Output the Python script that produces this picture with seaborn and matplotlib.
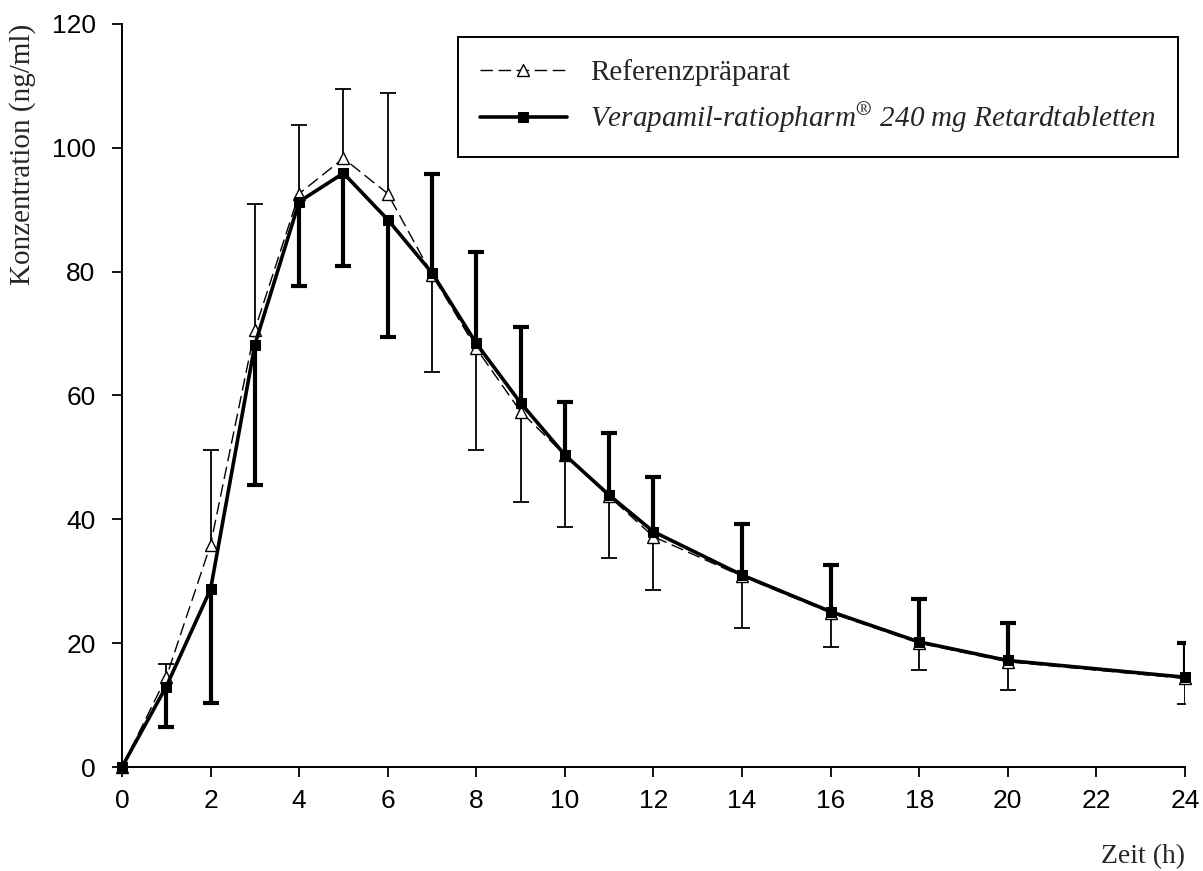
import numpy as np
import pandas as pd
import matplotlib
matplotlib.use("Agg")
import matplotlib.pyplot as plt
import seaborn as sns

# ---- data ----
times = [0, 1, 2, 3, 4, 5, 6, 7, 8, 9, 10, 11, 12, 14, 16, 18, 20, 24]
ref_mean = [0, 14.5, 35.9, 70.6, 92.6, 98.3, 92.6, 79.5, 67.6, 57.4, 50.4, 43.7, 37.2, 30.8, 24.9, 20.0, 17.0, 14.3]
test_mean = [0, 13.0, 28.7, 68.2, 91.3, 95.9, 88.4, 79.8, 68.4, 58.8, 50.4, 43.9, 38.0, 31.0, 25.1, 20.2, 17.2, 14.5]
# end of the one-sided SD bars (upper for early times, lower for later ones)
ref_bar_end = [np.nan, 16.6, 51.2, 91.0, 103.7, 109.5, 108.8, 63.8, 51.2, 42.8, 38.7, 33.8, 28.6, 22.4, 19.4, 15.7, 12.4, 10.1]
test_bar_end = [np.nan, 6.5, 10.4, 45.6, 77.7, 80.9, 69.5, 95.7, 83.1, 71.1, 58.9, 54.0, 46.8, 39.3, 32.6, 27.1, 23.3, 20.1]

ref_label = "Referenzpräparat"
test_label = r"Verapamil-ratiopharm$^{\circledR}$ 240 mg Retardtabletten"
x_ticks = list(range(0, 25, 2))
y_ticks = list(range(0, 121, 20))

df = pd.DataFrame({"t": times, "ref": ref_mean, "test": test_mean,
                   "ref_end": ref_bar_end, "test_end": test_bar_end})

sns.set_style("ticks")
plt.rcParams["font.family"] = ["Liberation Sans", "DejaVu Sans"]
plt.rcParams["mathtext.fontset"] = "stix"

fig = plt.figure(figsize=(12.03, 8.71), dpi=100)
ax = fig.add_axes([0.1014, 0.1194, 0.8836, 0.8531])

# error bars (one-sided)
bars = df.dropna()
ax.vlines(bars["t"], bars["ref"], bars["ref_end"], color="black", lw=1.3, zorder=2)
ax.plot(bars["t"], bars["ref_end"], ls="none", marker="_", ms=12, mew=1.3, color="black", zorder=2)
ax.vlines(bars["t"], bars["test"], bars["test_end"], color="black", lw=3.0, zorder=2)
ax.plot(bars["t"], bars["test_end"], ls="none", marker="_", ms=12, mew=3.0, color="black", zorder=2)

sns.lineplot(data=df, x="t", y="ref", ax=ax, color="black", lw=1.0,
             linestyle=(0, (9, 4)), marker="^", markersize=8,
             markerfacecolor="white", markeredgecolor="black", markeredgewidth=1.0,
             label=ref_label, zorder=3, clip_on=False)
sns.lineplot(data=df, x="t", y="test", ax=ax, color="black", lw=2.6,
             marker="s", markersize=6.5, markerfacecolor="black", markeredgecolor="black",
             label=test_label, zorder=4, clip_on=False)

ax.set_xlim(0, 24)
ax.set_ylim(0, 120)
ax.set_xticks(x_ticks)
ax.set_yticks(y_ticks)
ax.tick_params(axis="both", direction="out", length=7, width=1.3, labelsize=19, colors="black")
ax.tick_params(axis="x", pad=9)
ax.tick_params(axis="y", pad=12)
for s in ["top", "right"]:
    ax.spines[s].set_visible(False)
for s in ["left", "bottom"]:
    ax.spines[s].set_linewidth(1.4)
    ax.spines[s].set_color("black")

ax.set_xlabel("Zeit (h)", fontdict={"family": ["Liberation Serif", "DejaVu Serif"], "size": 20},
              loc="right", labelpad=22)
ax.set_ylabel("Konzentration (ng/ml)", fontdict={"family": ["Liberation Serif", "DejaVu Serif"], "size": 21},
              loc="top", labelpad=11)

leg = ax.legend(loc="upper right", bbox_to_anchor=(0.9934, 0.9825),
                frameon=True, fancybox=False, edgecolor="black", framealpha=1,
                handlelength=3.0, handletextpad=0.8, borderpad=0.75, labelspacing=0.5,
                borderaxespad=0,
                prop={"family": ["Liberation Serif", "DejaVu Serif"], "size": 21})
leg.get_frame().set_linewidth(1.4)
leg.get_texts()[1].set_fontstyle("italic")

fig.savefig("out.png", dpi=100)
